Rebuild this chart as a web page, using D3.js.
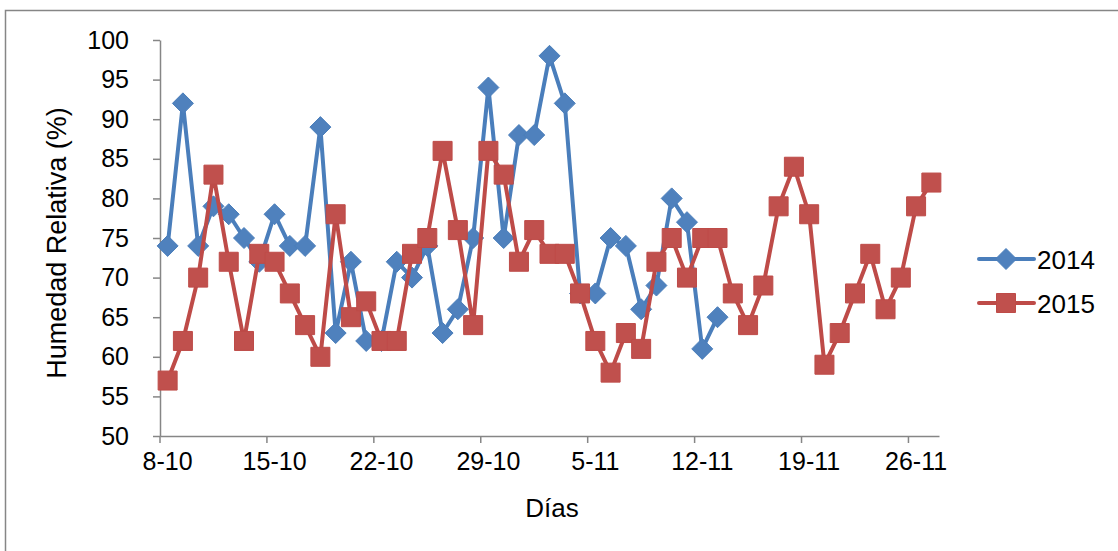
<!DOCTYPE html>
<html>
<head>
<meta charset="utf-8">
<script src="https://cdn.jsdelivr.net/npm/d3@7"></script>
<style>
  body { margin: 0; background: #fff; }
  svg { display: block; font-family: Arial, "Liberation Sans", sans-serif; }
</style>
</head>
<body>
<svg id="chart" width="1118" height="551"></svg>
<script>
// categories (one per day)
const days = [
  "8-10","9-10","10-10","11-10","12-10","13-10","14-10","15-10","16-10","17-10",
  "18-10","19-10","20-10","21-10","22-10","23-10","24-10","25-10","26-10","27-10",
  "28-10","29-10","30-10","31-10","1-11","2-11","3-11","4-11","5-11","6-11",
  "7-11","8-11","9-11","10-11","11-11","12-11","13-11","14-11","15-11","16-11",
  "17-11","18-11","19-11","20-11","21-11","22-11","23-11","24-11","25-11","26-11",
  "27-11"
];
const dayLabels = ["8-10","15-10","22-10","29-10","5-11","12-11","19-11","26-11"];
const yTicks = [50, 55, 60, 65, 70, 75, 80, 85, 90, 95, 100];

// humedad relativa (%)
const hr2014 = [74, 92, 74, 79, 78, 75, 72, 78, 74, 74, 89, 63, 72, 62, 62, 72, 70, 74, 63, 66,
                75, 94, 75, 88, 88, 98, 92, 68, 68, 75, 74, 66, 69, 80, 77, 61, 65];
const hr2015 = [57, 62, 70, 83, 72, 62, 73, 72, 68, 64, 60, 78, 65, 67, 62, 62, 73, 75, 86, 76,
                64, 86, 83, 72, 76, 73, 73, 68, 62, 58, 63, 61, 72, 75, 70, 75, 75, 68, 64, 69,
                79, 84, 78, 59, 63, 68, 73, 66, 70, 79, 82];

const blue = '#4a7ebb', blueMark = '#4f81bd';
const red = '#be4b48', redMark = '#c0504d';
const axisGray = '#868686';

const svg = d3.select('#chart');

// outer chart border
svg.append('rect')
  .attr('x', 5.5).attr('y', 10.5)
  .attr('width', 1130).attr('height', 560)
  .attr('fill', 'none')
  .attr('stroke', axisGray)
  .attr('stroke-width', 1.5);

const plotLeft = 160, plotRight = 939, plotTop = 40, plotBottom = 436;

const x = d3.scaleBand().domain(days).range([plotLeft, plotRight]).padding(0);
const y = d3.scaleLinear().domain([50, 100]).range([plotBottom, plotTop]);
const cx = d => x(d) + x.bandwidth() / 2;

// y axis
const yAxis = svg.append('g')
  .attr('transform', 'translate(' + plotLeft + ',0)')
  .call(d3.axisLeft(y).tickValues(yTicks).tickSize(7).tickSizeOuter(0).tickPadding(24));
yAxis.selectAll('text').style('font-size', '25px').attr('fill', '#000');

// x axis: labels centred on category, ticks between groups of 7
const xAxis = svg.append('g')
  .attr('transform', 'translate(0,' + plotBottom + ')')
  .call(d3.axisBottom(x).tickValues(dayLabels).tickSize(0).tickSizeOuter(0).tickPadding(16));
xAxis.selectAll('text').style('font-size', '25px').attr('fill', '#000').attr('dy', '0.71em');
xAxis.selectAll('.tick')
  .append('line')
  .attr('x1', -x.bandwidth() / 2).attr('x2', -x.bandwidth() / 2)
  .attr('y1', 0).attr('y2', 7);

svg.selectAll('.domain, .tick line')
  .attr('stroke', axisGray)
  .attr('stroke-width', 1.5);

// axis titles
svg.append('text')
  .attr('transform', 'translate(66,243) rotate(-90)')
  .attr('text-anchor', 'middle')
  .style('font-size', '27px')
  .text('Humedad Relativa (%)');

svg.append('text')
  .attr('x', 552).attr('y', 517)
  .attr('text-anchor', 'middle')
  .style('font-size', '26px')
  .text('Días');

// series
const line = d3.line()
  .x((d, i) => cx(days[i]))
  .y(d => y(d));

const diamond = 'M0,-10.5L10.5,0L0,10.5L-10.5,0Z';
const square = 'M-9.5,-9.5H9.5V9.5H-9.5Z';

function drawSeries(data, lineColor, markColor, shape) {
  svg.append('path')
    .datum(data)
    .attr('d', line)
    .attr('fill', 'none')
    .attr('stroke', lineColor)
    .attr('stroke-width', 4)
    .attr('stroke-linejoin', 'round');

  svg.append('g')
    .selectAll('path')
    .data(data)
    .enter()
    .append('path')
    .attr('d', shape)
    .attr('transform', (d, i) => 'translate(' + cx(days[i]) + ',' + y(d) + ')')
    .attr('fill', markColor)
    .attr('stroke', lineColor)
    .attr('stroke-width', 1);
}

drawSeries(hr2014, blue, blueMark, diamond);
drawSeries(hr2015, red, redMark, square);

// legend
const legend = [
  {name: '2014', color: blue, mark: blueMark, shape: diamond, y: 259},
  {name: '2015', color: red, mark: redMark, shape: square, y: 303}
];
legend.forEach(l => {
  svg.append('line')
    .attr('x1', 979).attr('x2', 1034)
    .attr('y1', l.y).attr('y2', l.y)
    .attr('stroke', l.color)
    .attr('stroke-width', 4)
    .attr('stroke-linecap', 'round');
  svg.append('path')
    .attr('d', l.shape)
    .attr('transform', 'translate(1006,' + l.y + ')')
    .attr('fill', l.mark)
    .attr('stroke', l.color);
  svg.append('text')
    .attr('x', 1037).attr('y', l.y + 10)
    .style('font-size', '26px')
    .text(l.name);
});
</script>
</body>
</html>
